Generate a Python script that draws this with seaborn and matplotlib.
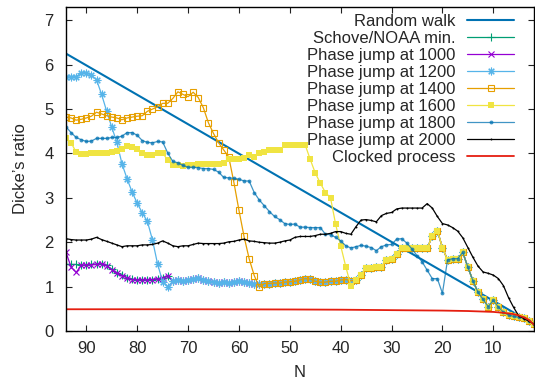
import matplotlib
matplotlib.use("Agg")
import matplotlib.pyplot as plt
import pandas as pd
import seaborn as sns

# Window size N, descending
N = list(range(94, 1, -1))

# Random walk reference line (end points) and the clocked process curve
walk_N = [94, 2]
walk_ratio = [6.25, 0.15]
clock_N = [94, 70, 50, 40, 30, 20, 15, 10, 8, 6, 5, 4, 3, 2]
clock_ratio = [0.49, 0.49, 0.485, 0.48, 0.47, 0.46, 0.45, 0.43, 0.41, 0.38, 0.35, 0.31, 0.25, 0.14]

# Early part of the records (N = 94 .. 74)
schove_head = [1.50, 1.50, 1.50, 1.48, 1.49, 1.50, 1.51, 1.52, 1.48, 1.39,
               1.31, 1.26, 1.20, 1.17, 1.15, 1.16, 1.15, 1.16, 1.18, 1.19, 1.23]
jump1000_head = [1.77, 1.44, 1.32, 1.48, 1.49, 1.49, 1.50, 1.52, 1.47, 1.38,
                 1.31, 1.25, 1.20, 1.16, 1.15, 1.15, 1.15, 1.16, 1.17, 1.19, 1.25]
jump1200_head = [5.73, 5.73, 5.73, 5.82, 5.82, 5.76, 5.66, 5.33, 4.95, 4.59,
                 4.25, 3.77, 3.43, 3.13, 2.88, 2.66, 2.47, 2.05, 1.51, 1.11, 1.00]

# Values shared by the early-jump records for N = 73 .. 38
low_mid = [1.12, 1.15, 1.13, 1.14, 1.17, 1.19, 1.16, 1.13, 1.10, 1.08,
           1.10, 1.08, 1.10, 1.12, 1.10, 1.08, 1.06, 1.05, 1.07, 1.07,
           1.08, 1.08, 1.10, 1.11, 1.12, 1.15, 1.18, 1.17, 1.12, 1.10,
           1.10, 1.12, 1.12, 1.15, 1.16, 1.13]

# Values shared for N = 37 .. 2
tail = [1.14, 1.26, 1.43, 1.43, 1.45, 1.44, 1.60, 1.62, 1.74, 1.87,
        1.87, 1.87, 1.86, 1.86, 1.86, 2.14, 2.26, 1.88, 1.60, 1.63,
        1.63, 1.77, 1.44, 1.13, 0.87, 0.71, 0.55, 0.69, 0.54, 0.42,
        0.36, 0.33, 0.31, 0.30, 0.22, 0.15]

# N = 94 .. 56
jump1400_head = [4.82, 4.80, 4.75, 4.77, 4.80, 4.84, 4.93, 4.89, 4.85, 4.82,
                 4.80, 4.76, 4.80, 4.82, 4.84, 4.85, 4.95, 5.00, 5.05, 5.13,
                 5.13, 5.24, 5.39, 5.33, 5.28, 5.38, 5.26, 5.03, 4.69, 4.45,
                 4.24, 4.08, 3.92, 3.35, 2.72, 2.13, 1.63, 1.25, 0.99]

# N = 94 .. 38
jump1600_head = [4.35, 4.24, 4.03, 3.98, 3.98, 4.00, 4.00, 4.00, 4.02, 4.03,
                 4.06, 4.10, 4.16, 4.15, 4.10, 4.00, 3.97, 3.97, 4.00, 4.01,
                 3.85, 3.73, 3.73, 3.71, 3.73, 3.75, 3.76, 3.77, 3.77, 3.77,
                 3.77, 3.78, 3.87, 3.87, 3.88, 3.90, 3.97, 3.93, 4.02, 4.04,
                 4.07, 4.07, 4.07, 4.18, 4.19, 4.20, 4.20, 4.20, 3.87, 3.56,
                 3.33, 3.12, 3.00, 2.41, 1.92, 1.45, 1.02]

# N = 94 .. 20
jump1800_head = [4.60, 4.47, 4.36, 4.31, 4.27, 4.28, 4.34, 4.34, 4.34, 4.36,
                 4.36, 4.39, 4.47, 4.47, 4.41, 4.29, 4.25, 4.24, 4.27, 4.26,
                 4.01, 3.82, 3.79, 3.73, 3.69, 3.69, 3.68, 3.66, 3.66, 3.64,
                 3.58, 3.46, 3.45, 3.44, 3.42, 3.38, 3.38, 3.12, 2.95, 2.82,
                 2.69, 2.58, 2.51, 2.42, 2.40, 2.41, 2.34, 2.34, 2.33, 2.33,
                 2.33, 2.18, 2.17, 2.11, 2.03, 1.92, 1.87, 1.90, 1.93, 1.91,
                 1.88, 1.81, 1.90, 1.94, 1.95, 2.07, 2.08, 1.98, 1.85, 1.70,
                 1.56, 1.37, 1.18, 1.18, 0.85]

# N = 94 .. 2
jump2000 = [2.08, 2.06, 2.05, 2.05, 2.05, 2.07, 2.11, 2.06, 2.02, 1.98,
            1.94, 1.90, 1.92, 1.92, 1.92, 1.94, 1.94, 1.95, 1.98, 2.03,
            1.98, 1.92, 1.90, 1.92, 1.92, 1.95, 1.98, 1.97, 1.97, 1.97,
            1.97, 1.98, 2.01, 2.02, 2.05, 2.07, 2.03, 2.02, 2.00, 1.99,
            1.98, 1.98, 2.00, 2.03, 2.05, 2.11, 2.13, 2.13, 2.13, 2.15,
            2.18, 2.18, 2.20, 2.24, 2.24, 2.20, 2.18, 2.35, 2.50, 2.51,
            2.49, 2.46, 2.60, 2.65, 2.67, 2.75, 2.77, 2.77, 2.77, 2.77,
            2.77, 2.87, 2.77, 2.58, 2.42, 2.39, 2.33, 2.25, 2.10, 1.88,
            1.66, 1.46, 1.33, 1.30, 1.26, 1.18, 1.02, 0.75, 0.53, 0.34,
            0.28, 0.22, 0.16]

schove = schove_head + low_mid + tail
jump1000 = jump1000_head + low_mid + tail
jump1200 = jump1200_head + low_mid + tail
jump1400 = jump1400_head + low_mid[18:] + tail
jump1600 = jump1600_head + tail
jump1800 = jump1800_head + tail[18:]

FS = 12

sns.set_style("ticks")
plt.rcParams["font.family"] = ["Liberation Sans", "DejaVu Sans"]
plt.rcParams["font.size"] = FS

fig = plt.figure(figsize=(5.35, 3.84), dpi=100)
ax = fig.add_axes([66 / 535, 53 / 384, 468 / 535, 324 / 384])

def frame(x, y):
    return pd.DataFrame({"N": x, "ratio": y})

sns.lineplot(data=frame(walk_N, walk_ratio), x="N", y="ratio", ax=ax,
             color="#0072b2", lw=1.5, label="Random walk")

series = [
    ("Schove/NOAA min.", schove, "#009e73",
     dict(marker="+", ms=5.5, mew=0.8)),
    ("Phase jump at 1000", jump1000, "#9400d3",
     dict(marker="x", ms=5, mew=0.8)),
    ("Phase jump at 1200", jump1200, "#56b4e9",
     dict(marker=(8, 2, 0), ms=5.5, mew=0.8)),
    ("Phase jump at 1400", jump1400, "#e69f00",
     dict(marker="s", ms=4.5, mew=0.8, mfc="none")),
    ("Phase jump at 1600", jump1600, "#f0e442",
     dict(marker="s", ms=3.8, mew=0.0)),
    ("Phase jump at 1800", jump1800, "#0072b2",
     dict(marker="o", ms=2.8, mew=0.0, alpha=0.75)),
    ("Phase jump at 2000", jump2000, "black",
     dict(marker="o", ms=1.4, mew=0.0)),
]
for name, vals, col, style in series:
    sns.lineplot(data=frame(N, vals), x="N", y="ratio", ax=ax, lw=0.9,
                 color=col, mec=col, label=name, **style)

sns.lineplot(data=frame(clock_N, clock_ratio), x="N", y="ratio", ax=ax,
             color="#e51e10", lw=1.3, label="Clocked process")

ax.set_xlim(94, 2)
ax.set_ylim(0, 7.3)
ax.set_xticks([90, 80, 70, 60, 50, 40, 30, 20, 10])
ax.set_yticks(range(0, 8))
ax.tick_params(direction="in", top=True, right=True, length=4.5, width=0.8,
               labelsize=FS, color="#222222")
ax.tick_params(axis="x", pad=7.0)
ax.tick_params(axis="y", pad=9)
for sp in ax.spines.values():
    sp.set_linewidth(1.0)
    sp.set_color("black")

ax.set_xlabel("N", fontsize=FS)
ax.set_ylabel("Dicke\u2019s ratio", fontsize=FS)
ax.xaxis.set_label_coords(0.5, -0.105)
ax.yaxis.set_label_coords(-0.081, 0.5)

leg = ax.legend(loc="upper right", bbox_to_anchor=(0.957, 0.978), frameon=False,
                markerfirst=False, numpoints=1, handlelength=2.8,
                handletextpad=0.7, labelspacing=0.12, borderpad=0,
                borderaxespad=0, fontsize=FS)

fig.savefig("out.png", dpi=100)
